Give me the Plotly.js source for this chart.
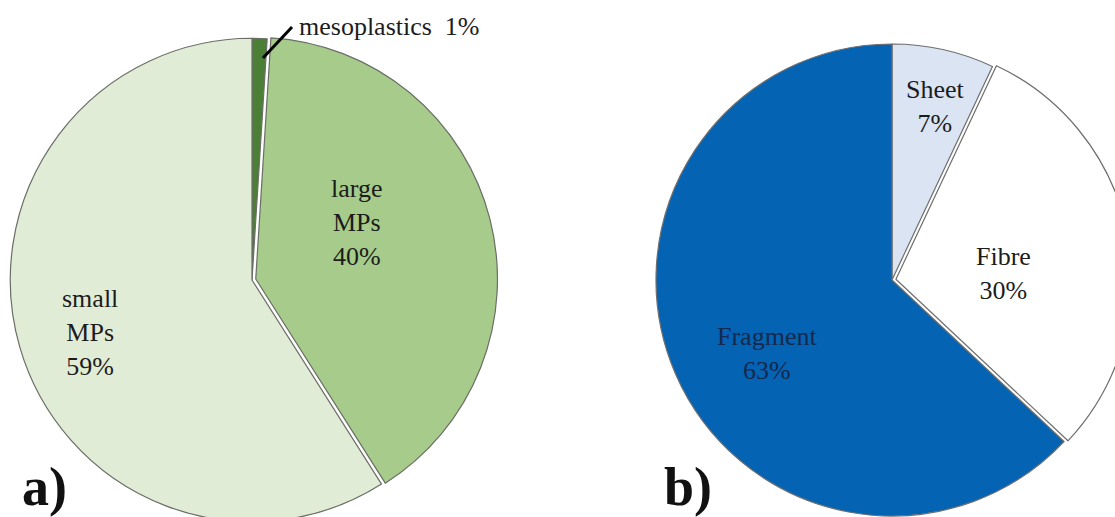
<!DOCTYPE html>
<html>
<head>
<meta charset="utf-8">
<script src="https://cdn.plot.ly/plotly-3.0.1.min.js"></script>
<style>
html,body{margin:0;padding:0;overflow:hidden;background:#fff;width:1115px;height:517px;}
#chart{width:1160px;height:540px;}
</style>
</head>
<body>
<div id="chart"></div>
<script>
// ---- data ----
var sizeCategories = ['mesoplastics', 'large MPs', 'small MPs'];
var sizeValues = [1, 40, 59];
var sizeLabels = ['mesoplastics  1%', 'large<br>MPs<br>40%', 'small<br>MPs<br>59%'];
var sizeColors = ['#4b7f36', '#a6cb8b', '#e1ecd7'];
var sizePull = [0, 0.016, 0];

var shapeCategories = ['Sheet', 'Fibre', 'Fragment'];
var shapeValues = [7, 30, 63];
var shapeLabels = ['Sheet<br>7%', 'Fibre<br>30%', 'Fragment<br>63%'];
var shapeColors = ['#dae4f3', '#ffffff', '#0563b3'];
var shapePull = [0, 0.017, 0];

var panelLabels = ['a)', 'b)'];

// ---- layout helpers (pixel -> paper) ----
var W = 1160, H = 540;
function px(x){ return x / W; }
function py(y){ return 1 - y / H; }

var traces = [
  {
    type: 'pie', labels: sizeCategories, values: sizeValues, sort: false,
    direction: 'clockwise', rotation: 0, pull: sizePull,
    marker: {colors: sizeColors, line: {color: '#6a6e66', width: 1.2}},
    textinfo: 'none', hoverinfo: 'none', showlegend: false,
    domain: {x: [px(6.4), px(497.6)], y: [py(525.6), py(34.4)]}
  },
  {
    type: 'pie', labels: shapeCategories, values: shapeValues, sort: false,
    direction: 'clockwise', rotation: 0, pull: shapePull,
    marker: {colors: shapeColors, line: {color: '#6e6e6e', width: 1.2}},
    textinfo: 'none', hoverinfo: 'none', showlegend: false,
    domain: {x: [px(652), px(1132)], y: [py(520), py(40)]}
  }
];

var serif = 'Liberation Serif, Times New Roman, serif';
function ann(text, x, y, color){
  return {text: text, x: px(x), y: py(y), xref: 'paper', yref: 'paper',
    xanchor: 'center', yanchor: 'middle', showarrow: false, align: 'center',
    font: {family: serif, size: 26, color: color || '#1c1c1c'}};
}
var annotations = [
  ann(sizeLabels[0], 389, 26),
  ann(sizeLabels[1], 357, 222),
  ann(sizeLabels[2], 90, 332),
  ann(shapeLabels[0], 935, 106),
  ann(shapeLabels[1], 1003, 273),
  ann(shapeLabels[2], 767, 353, '#13294d'),
  {text: panelLabels[0], x: px(44), y: py(487), xref: 'paper', yref: 'paper',
   xanchor: 'center', yanchor: 'middle', showarrow: false,
   font: {family: serif, size: 54, color: '#111', weight: 700}},
  {text: panelLabels[1], x: px(688), y: py(487), xref: 'paper', yref: 'paper',
   xanchor: 'center', yanchor: 'middle', showarrow: false,
   font: {family: serif, size: 54, color: '#111', weight: 700}}
];

var layout = {
  width: W, height: H,
  margin: {l: 0, r: 0, t: 0, b: 0, pad: 0},
  paper_bgcolor: '#ffffff', plot_bgcolor: '#ffffff',
  showlegend: false,
  annotations: annotations,
  shapes: [{type: 'line', xref: 'paper', yref: 'paper',
    x0: px(263), y0: py(58), x1: px(292), y1: py(27),
    line: {color: '#000', width: 3}}]
};

Plotly.newPlot('chart', traces, layout, {displayModeBar: false, staticPlot: true});
</script>
</body>
</html>
